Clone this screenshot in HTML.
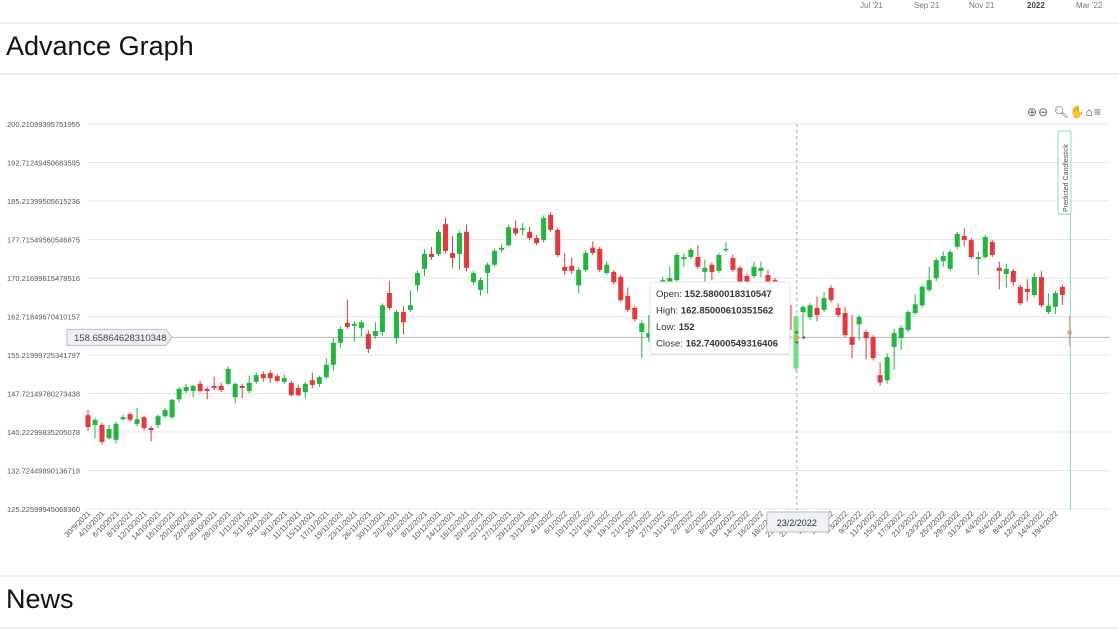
<!DOCTYPE html>
<html><head><meta charset="utf-8">
<style>
body{margin:0;width:1119px;height:632px;background:#fff;font-family:"Liberation Sans",sans-serif;overflow:hidden;position:relative}
.abs{position:absolute}
</style></head><body>
<div class="abs" style="left:0;top:0;width:1119px;height:22px;font-size:8px;color:#777">
<span class="abs" style="left:860px;top:1px">Jul '21</span>
<span class="abs" style="left:914px;top:1px">Sep 21</span>
<span class="abs" style="left:969px;top:1px">Nov 21</span>
<span class="abs" style="left:1027px;top:1px;font-weight:bold;color:#444">2022</span>
<span class="abs" style="left:1076px;top:1px">Mar '22</span>
</div>
<div class="abs" style="left:0;top:22px;width:1119px;height:2px;background:#eee"></div>
<div class="abs" style="left:6px;top:31px;font-size:27px;color:#111">Advance Graph</div>
<div class="abs" style="left:0;top:73px;width:1119px;height:2px;background:#eee"></div>
<div class="abs" style="left:1027px;top:105px;font-size:12px;color:#666;letter-spacing:1px">
<span>⊕</span><span>⊖</span>
<span>&#x1F50D;&#xFE0E;</span><span style="color:#2f8de4">✋</span><span style="color:#3a4a5a">⌂</span><span>≡</span>
</div>
<svg class="abs" style="left:0;top:0" width="1119" height="632" id="chart"></svg>
<div class="abs" style="left:0;top:575px;width:1119px;height:2px;background:#eee"></div>
<div class="abs" style="left:6px;top:584px;font-size:27px;color:#111">News</div>
<div class="abs" style="left:0;top:627px;width:1119px;height:2px;background:#eee"></div>
<script>
const yTicks=["200.21099395751955","192.71249450683595","185.21399505615236","177.71549560546875","170.21699615478516","162.71849670410157","155.21999725341797","147.72149780273438","140.22299835205078","132.72449890136718","125.22599945068360"];
const xLabels=["30/9/2021","4/10/2021","6/10/2021","8/10/2021","12/10/2021","14/10/2021","18/10/2021","20/10/2021","22/10/2021","26/10/2021","28/10/2021","1/11/2021","3/11/2021","5/11/2021","9/11/2021","11/11/2021","15/11/2021","17/11/2021","19/11/2021","23/11/2021","26/11/2021","30/11/2021","2/12/2021","6/12/2021","8/12/2021","10/12/2021","14/12/2021","16/12/2021","20/12/2021","22/12/2021","27/12/2021","29/12/2021","31/12/2021","4/1/2022","6/1/2022","10/1/2022","12/1/2022","14/1/2022","19/1/2022","21/1/2022","25/1/2022","27/1/2022","31/1/2022","2/2/2022","4/2/2022","8/2/2022","10/2/2022","14/2/2022","16/2/2022","18/2/2022","23/2/2022","25/2/2022","1/3/2022","3/3/2022","7/3/2022","9/3/2022","11/3/2022","15/3/2022","17/3/2022","21/3/2022","23/3/2022","25/3/2022","29/3/2022","31/3/2022","4/4/2022","6/4/2022","8/4/2022","12/4/2022","14/4/2022","19/4/2022"];
const opens=[143.5,141.6,141.6,139.0,138.7,142.7,143.7,141.8,143.1,141.0,141.6,143.3,143.1,146.6,148.2,148.2,149.6,148.6,149.2,149.2,149.6,147.0,149.2,148.2,150.0,151.5,151.7,151.1,150.0,149.8,148.8,148.0,150.3,149.6,150.9,153.3,157.6,161.5,160.9,160.5,159.3,158.9,159.7,167.3,158.5,163.6,164.0,168.8,172.0,174.9,174.9,180.7,175.1,174.9,179.2,169.4,167.9,171.2,172.8,175.7,176.6,179.9,179.7,179.2,178.0,177.6,182.5,179.6,172.4,172.6,168.8,171.8,176.1,175.9,171.2,171.4,170.4,166.7,164.4,159.7,158.7,160.1,165.9,169.4,169.8,173.9,174.3,174.3,171.4,172.8,171.6,175.7,174.1,172.2,170.6,170.6,171.6,170.8,169.8,167.9,165.0,152.58,163.6,162.6,164.4,164.0,168.3,164.4,163.4,158.7,161.2,159.7,158.7,151.3,150.3,156.8,158.5,160.1,163.4,164.9,167.9,170.2,173.5,172.0,176.3,178.4,177.6,173.9,174.3,177.2,172.2,171.0,171.6,168.5,168.1,166.9,170.4,163.6,164.6,168.5];
const highs=[144.5,143.0,142.0,141.6,142.2,143.6,144.0,144.9,143.4,141.4,143.6,144.9,146.7,149.0,149.6,149.4,150.2,149.0,151.0,149.8,153.0,149.8,149.6,151.2,151.8,152.0,152.2,151.5,151.4,150.2,149.4,150.0,151.8,151.2,154.6,158.6,160.8,166.0,161.8,162.0,160.0,161.6,165.3,169.6,164.0,164.7,167.8,171.6,175.8,176.3,179.6,182.0,178.4,179.4,180.6,171.6,170.3,173.2,175.9,176.8,180.6,181.4,180.9,180.2,178.6,182.4,183.0,180.0,175.0,174.2,172.2,175.6,177.3,176.3,173.4,171.8,170.8,168.4,164.8,162.0,163.0,163.0,170.4,172.4,175.2,175.0,176.1,176.6,173.8,173.2,175.1,177.2,174.8,172.6,171.0,173.4,173.4,171.8,170.2,168.3,165.4,162.85,164.9,165.3,166.6,167.5,168.8,165.3,164.6,163.0,163.0,160.1,159.1,153.8,155.5,160.3,161.0,164.0,167.0,168.9,172.4,174.1,175.4,175.7,179.2,179.8,178.0,175.4,178.6,177.6,173.4,173.0,172.0,168.9,170.0,171.2,171.6,167.2,167.7,168.9];
const lows=[140.5,139.0,137.8,138.8,138.0,142.5,142.2,141.3,140.5,138.4,141.0,143.0,142.8,146.0,147.8,147.0,148.0,146.6,148.4,148.0,149.4,145.8,146.8,147.8,149.6,150.0,149.8,149.9,149.6,147.2,147.2,146.8,148.8,149.0,150.5,152.2,156.6,160.3,157.8,158.8,155.6,158.4,159.0,164.0,157.4,159.2,163.6,167.6,170.6,173.8,174.5,175.0,172.2,171.8,171.5,168.8,166.8,167.2,172.4,175.2,176.3,178.4,178.6,177.6,176.6,177.2,179.2,174.3,170.8,171.0,167.2,171.4,174.7,171.4,170.8,169.0,165.6,163.6,161.8,154.6,157.8,159.6,165.4,169.0,169.4,172.4,173.9,172.0,169.0,169.8,171.2,175.3,171.4,169.0,167.4,170.2,170.4,169.0,167.0,164.6,159.6,152.0,158.5,162.0,161.8,163.6,165.5,162.6,158.7,154.6,158.0,154.4,154.2,149.2,149.6,152.3,156.2,159.6,163.0,164.5,167.5,169.6,172.4,171.6,175.9,176.4,173.9,170.8,173.9,174.3,168.0,168.4,168.6,164.9,165.6,166.5,164.5,163.2,163.2,165.0];
const closes=[141.2,142.6,138.3,140.8,141.8,143.1,142.6,142.7,141.0,140.6,143.3,144.5,146.5,148.6,149.0,149.2,148.2,148.2,148.8,148.4,152.5,149.6,148.8,149.8,151.3,150.7,150.7,150.2,150.7,147.4,147.4,149.6,149.4,150.9,153.3,157.6,160.3,160.7,161.3,161.6,156.4,159.9,164.9,164.4,163.6,161.6,164.9,171.2,174.9,174.3,179.2,175.5,174.1,179.0,172.2,171.2,169.8,172.8,175.5,176.1,180.1,178.9,179.9,178.0,177.0,181.9,179.6,174.7,171.6,171.6,171.8,175.1,175.1,171.8,172.8,169.4,165.9,164.0,162.2,161.4,159.5,162.4,169.8,170.2,174.7,174.3,175.7,172.4,172.2,171.4,174.7,175.9,171.8,169.4,167.9,172.4,172.2,169.4,167.5,165.0,160.1,162.74,164.6,164.9,163.0,166.3,165.9,163.0,159.1,157.2,162.6,158.5,154.6,149.9,154.8,159.5,160.5,163.6,165.1,168.5,169.8,173.7,174.5,175.3,178.8,177.6,174.3,174.3,178.2,174.7,171.6,172.0,169.4,165.3,167.5,170.4,164.9,164.8,167.3,166.9];
const predicted=[160.0,162.8,157.0,159.2];
const crosshairValue=158.65864628310348;
const hoverIndex=101;

const NS="http://www.w3.org/2000/svg";
const svg=document.getElementById('chart');
const yMax=200.21099395751955,yMin=125.2259994506836,top0=124,bot0=509;
const xLeft=88,step=7.01;
function Y(v){return top0+(yMax-v)/(yMax-yMin)*(bot0-top0);}
function X(i){return xLeft+i*step;}
function mk(t,a,parent){const e=document.createElementNS(NS,t);for(const k in a)e.setAttribute(k,a[k]);(parent||svg).appendChild(e);return e;}

yTicks.forEach((t,i)=>{
  const v=parseFloat(t);const y=Y(v);
  const g=mk('line',{x1:87,x2:1110,y1:y,y2:y,stroke:'#e6e6e6','stroke-width':1});
  
  
  const tx=mk('text',{x:80,y:y+3,'text-anchor':'end','font-size':7.5,fill:'#555'});
  tx.textContent=t;
  
  
});
xLabels.forEach((t,i)=>{
  const x=X(i*2)+3;
  const tx=mk('text',{x:x,y:514,'text-anchor':'end','font-size':7.5,fill:'#555',transform:`rotate(-45 ${x} 514)`});
  tx.textContent=t;
  
  
});
const cy=Y(crosshairValue);
mk('line',{x1:87,x2:1110,y1:cy,y2:cy,stroke:'#b8b8b8','stroke-width':1});
const hx=X(hoverIndex)+0.8;
mk('line',{x1:hx,x2:hx,y1:124,y2:510,stroke:'#aaa','stroke-width':1,'stroke-dasharray':'3,3'});
for(let i=0;i<opens.length;i++){
  const o=opens[i],c=closes[i],up=c>=o;
  const col=up?'#1db83c':'#e8363b';
  const x=X(i);
  const g=mk('g',{});
  
  
  mk('line',{x1:x,x2:x,y1:Y(highs[i]),y2:Y(lows[i]),stroke:i==hoverIndex?'#6fe07f':col,'stroke-width':1},g);
  const t=Y(Math.max(o,c)),b=Y(Math.min(o,c));
  mk('rect',{x:x-2.5,y:t,width:5,height:Math.max(1.5,b-t),fill:i==hoverIndex?'#6fe07f':col},g);
}
const px=X(opens.length);
mk('line',{x1:px+1,x2:px+1,y1:130,y2:510,stroke:'#7fe0c0','stroke-width':1});
const pg=mk('g',{opacity:0.5});


mk('line',{x1:px,x2:px,y1:Y(predicted[1]),y2:Y(predicted[2]),stroke:'#e8363b'},pg);
mk('rect',{x:px-2,y:Y(predicted[0]),width:4,height:Math.max(1.5,Y(predicted[3])-Y(predicted[0])),fill:'#e8363b'},pg);
mk('rect',{x:1058,y:131,width:13,height:83,rx:2,fill:'#fff',stroke:'#7fe0c0'});
const pl=mk('text',{x:1068,y:212,'font-size':7,fill:'#555',transform:'rotate(-90 1068 212)'});
pl.textContent='Predicted Candlestick';


mk('path',{d:`M67 ${cy-8} H166 L172 ${cy} L166 ${cy+8} H67 Z`,fill:'#eef1f5',stroke:'#b8c0c8'});
const yl=mk('text',{x:74,y:cy+3.5,'font-size':9.5,fill:'#444'});
yl.textContent=String(crosshairValue);


mk('rect',{x:hx-30,y:512,width:62,height:20,fill:'#eef1f5',stroke:'#b8c0c8'});
const xl=mk('text',{x:hx,y:526,'text-anchor':'middle','font-size':9,fill:'#333'});
xl.textContent=xLabels[50];


const mg=mk('g',{});


mk('circle',{cx:hx,cy:cy,r:2,fill:'#f39a1e'},mg);
mk('path',{d:`M${hx-9} ${cy} l3 -2 v4 z M${hx+9} ${cy} l-3 -2 v4 z M${hx} ${cy-7} l-2 3 h4 z M${hx} ${cy+7} l-2 -3 h4 z`,fill:'#666'},mg);
const tg=mk('g',{});


mk('rect',{x:650,y:282,width:140,height:72,rx:3,fill:'#fff',stroke:'#e2e2e2'},tg);
const rows=[['Open: ','152.5800018310547'],['High: ','162.85000610351562'],['Low: ','152'],['Close: ','162.74000549316406']];
rows.forEach((r,i)=>{
  const t=mk('text',{x:656,y:297+i*16.5,'font-size':9.5,fill:'#333'},tg);
  const a=document.createElementNS(NS,'tspan');a.textContent=r[0];t.appendChild(a);
  const b=document.createElementNS(NS,'tspan');b.textContent=r[1];b.setAttribute('font-weight','bold');t.appendChild(b);
});
</script>
</body></html>
